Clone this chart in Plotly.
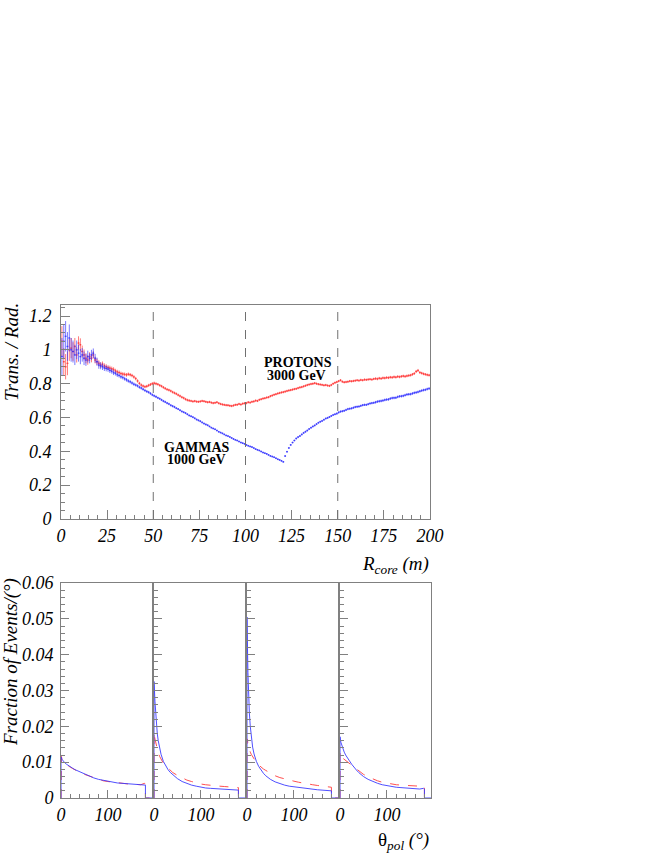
import plotly.graph_objects as go

# ---------------- Top panel data: Trans./Rad. vs R_core (1 m bins) ----------------
R_CENTERS = [i + 0.5 for i in range(200)]

GAMMA_RATIO = [
    0.96, 1.05, 1.08, 1.02, 1.07, 1.00, 0.99, 0.97, 1.00, 0.98,
    0.96, 0.97, 0.95, 0.94, 0.96, 0.95, 0.97, 0.98, 0.95, 0.93,
    0.91, 0.905, 0.90, 0.893, 0.89, 0.886, 0.878, 0.873, 0.865, 0.861,
    0.853, 0.848, 0.841, 0.836, 0.829, 0.823, 0.816, 0.811, 0.804, 0.797,
    0.792, 0.787, 0.779, 0.774, 0.767, 0.760, 0.754, 0.749, 0.742, 0.734,
    0.728, 0.723, 0.716, 0.711, 0.704, 0.697, 0.692, 0.685, 0.680, 0.672,
    0.667, 0.662, 0.655, 0.650, 0.643, 0.636, 0.631, 0.626, 0.619, 0.612,
    0.607, 0.602, 0.595, 0.588, 0.583, 0.578, 0.571, 0.564, 0.559, 0.554,
    0.547, 0.540, 0.535, 0.530, 0.523, 0.516, 0.511, 0.506, 0.500, 0.494,
    0.490, 0.485, 0.479, 0.473, 0.468, 0.464, 0.458, 0.452, 0.448, 0.444,
    0.438, 0.433, 0.429, 0.425, 0.419, 0.413, 0.409, 0.405, 0.399, 0.393,
    0.389, 0.385, 0.379, 0.373, 0.369, 0.365, 0.359, 0.353, 0.349, 0.344,
    0.338, 0.372, 0.398, 0.420, 0.438, 0.452, 0.464, 0.476, 0.484, 0.491,
    0.500, 0.509, 0.516, 0.523, 0.532, 0.540, 0.547, 0.553, 0.561, 0.569,
    0.575, 0.580, 0.587, 0.594, 0.598, 0.603, 0.609, 0.615, 0.619, 0.623,
    0.630, 0.635, 0.637, 0.640, 0.645, 0.650, 0.652, 0.654, 0.658, 0.662,
    0.664, 0.665, 0.669, 0.673, 0.675, 0.675, 0.679, 0.683, 0.685, 0.687,
    0.690, 0.694, 0.696, 0.698, 0.700, 0.704, 0.706, 0.707, 0.712, 0.715,
    0.716, 0.717, 0.722, 0.725, 0.726, 0.728, 0.732, 0.736, 0.737, 0.738,
    0.742, 0.746, 0.748, 0.751, 0.755, 0.759, 0.762, 0.764, 0.768, 0.771,
]

GAMMA_ERR = [
    0.110, 0.100, 0.090, 0.085, 0.080, 0.070, 0.065, 0.060, 0.055, 0.050,
    0.045, 0.040, 0.040, 0.035, 0.035, 0.030, 0.030, 0.028, 0.026, 0.024,
    0.022, 0.020, 0.019, 0.018, 0.017, 0.016, 0.015, 0.014, 0.014, 0.013,
    0.013, 0.012, 0.012, 0.011, 0.011, 0.011, 0.010, 0.010, 0.010, 0.010,
    0.009, 0.009, 0.009, 0.009, 0.009, 0.008, 0.008, 0.008, 0.008, 0.008,
    0.008, 0.008, 0.007, 0.007, 0.007, 0.007, 0.007, 0.007, 0.007, 0.007,
    0.007, 0.007, 0.006, 0.006, 0.006, 0.006, 0.006, 0.006, 0.006, 0.006,
    0.006, 0.006, 0.006, 0.006, 0.006, 0.006, 0.006, 0.006, 0.006, 0.006,
    0.005, 0.005, 0.005, 0.005, 0.005, 0.005, 0.005, 0.005, 0.005, 0.005,
    0.005, 0.005, 0.005, 0.005, 0.005, 0.005, 0.005, 0.005, 0.005, 0.005,
    0.005, 0.005, 0.005, 0.005, 0.005, 0.005, 0.005, 0.005, 0.005, 0.005,
    0.005, 0.005, 0.005, 0.005, 0.005, 0.005, 0.005, 0.005, 0.005, 0.005,
    0.005, 0.005, 0.005, 0.005, 0.005, 0.005, 0.005, 0.006, 0.006, 0.006,
    0.006, 0.006, 0.006, 0.006, 0.006, 0.006, 0.006, 0.006, 0.006, 0.006,
    0.006, 0.006, 0.006, 0.006, 0.006, 0.006, 0.006, 0.006, 0.006, 0.007,
    0.007, 0.007, 0.007, 0.007, 0.007, 0.007, 0.007, 0.007, 0.007, 0.007,
    0.007, 0.007, 0.007, 0.007, 0.007, 0.007, 0.007, 0.007, 0.007, 0.007,
    0.008, 0.008, 0.008, 0.008, 0.008, 0.008, 0.008, 0.008, 0.008, 0.008,
    0.008, 0.008, 0.008, 0.008, 0.008, 0.008, 0.008, 0.008, 0.008, 0.008,
    0.008, 0.008, 0.008, 0.008, 0.008, 0.008, 0.008, 0.008, 0.008, 0.008,
]

PROTON_RATIO = [
    1.05, 0.93, 0.90, 0.92, 1.00, 1.01, 0.99, 1.02, 0.97, 1.04,
    1.03, 0.99, 0.97, 0.95, 0.94, 0.96, 0.95, 0.97, 0.94, 0.93,
    0.92, 0.91, 0.915, 0.905, 0.90, 0.895, 0.892, 0.888, 0.884, 0.876,
    0.870, 0.866, 0.860, 0.857, 0.855, 0.852, 0.856, 0.853, 0.848, 0.840,
    0.830, 0.816, 0.802, 0.792, 0.786, 0.782, 0.784, 0.790, 0.795, 0.800,
    0.803, 0.800, 0.796, 0.790, 0.785, 0.778, 0.772, 0.766, 0.762, 0.757,
    0.750, 0.745, 0.740, 0.733, 0.727, 0.720, 0.715, 0.708, 0.703, 0.700,
    0.698, 0.695, 0.697, 0.694, 0.693, 0.695, 0.698, 0.696, 0.693, 0.690,
    0.692, 0.688, 0.685, 0.687, 0.690, 0.684, 0.680, 0.677, 0.675, 0.673,
    0.672, 0.670, 0.668, 0.671, 0.675, 0.676, 0.680, 0.677, 0.682, 0.684,
    0.685, 0.690, 0.688, 0.693, 0.695, 0.700, 0.698, 0.705, 0.708, 0.712,
    0.714, 0.718, 0.720, 0.726, 0.730, 0.735, 0.738, 0.742, 0.745, 0.748,
    0.750, 0.753, 0.757, 0.760, 0.762, 0.765, 0.768, 0.770, 0.774, 0.778,
    0.780, 0.784, 0.788, 0.792, 0.795, 0.798, 0.800, 0.803, 0.800, 0.797,
    0.795, 0.793, 0.790, 0.792, 0.789, 0.787, 0.792, 0.800, 0.806, 0.810,
    0.815, 0.820, 0.812, 0.808, 0.810, 0.812, 0.815, 0.814, 0.816, 0.818,
    0.820, 0.818, 0.822, 0.820, 0.824, 0.823, 0.825, 0.826, 0.824, 0.828,
    0.830, 0.828, 0.832, 0.830, 0.834, 0.833, 0.836, 0.835, 0.838, 0.837,
    0.840, 0.838, 0.842, 0.840, 0.843, 0.845, 0.843, 0.846, 0.848, 0.850,
    0.855, 0.860, 0.872, 0.878, 0.866, 0.862, 0.858, 0.855, 0.852, 0.850,
]

PROTON_ERR = [
    0.090, 0.080, 0.075, 0.070, 0.065, 0.060, 0.055, 0.050, 0.045, 0.040,
    0.038, 0.035, 0.032, 0.030, 0.028, 0.026, 0.024, 0.022, 0.020, 0.019,
    0.018, 0.017, 0.016, 0.015, 0.015, 0.014, 0.014, 0.013, 0.013, 0.012,
    0.012, 0.012, 0.011, 0.011, 0.011, 0.011, 0.010, 0.010, 0.010, 0.010,
    0.010, 0.010, 0.009, 0.009, 0.009, 0.009, 0.009, 0.009, 0.009, 0.009,
    0.009, 0.009, 0.008, 0.008, 0.008, 0.008, 0.008, 0.008, 0.008, 0.008,
    0.008, 0.008, 0.008, 0.008, 0.008, 0.008, 0.008, 0.008, 0.008, 0.008,
    0.007, 0.007, 0.007, 0.007, 0.007, 0.007, 0.007, 0.007, 0.007, 0.007,
    0.007, 0.007, 0.007, 0.007, 0.007, 0.007, 0.007, 0.007, 0.007, 0.007,
    0.007, 0.007, 0.007, 0.007, 0.007, 0.007, 0.007, 0.007, 0.007, 0.007,
    0.007, 0.007, 0.007, 0.007, 0.007, 0.007, 0.007, 0.007, 0.007, 0.007,
    0.007, 0.007, 0.007, 0.007, 0.007, 0.007, 0.007, 0.007, 0.007, 0.007,
    0.007, 0.007, 0.007, 0.007, 0.007, 0.007, 0.007, 0.007, 0.007, 0.007,
    0.007, 0.007, 0.007, 0.007, 0.007, 0.007, 0.007, 0.007, 0.007, 0.007,
    0.007, 0.007, 0.007, 0.007, 0.007, 0.007, 0.007, 0.007, 0.007, 0.007,
    0.007, 0.007, 0.007, 0.007, 0.007, 0.007, 0.007, 0.007, 0.007, 0.007,
    0.007, 0.007, 0.007, 0.007, 0.007, 0.007, 0.007, 0.007, 0.007, 0.007,
    0.008, 0.008, 0.008, 0.008, 0.008, 0.008, 0.008, 0.008, 0.008, 0.008,
    0.008, 0.008, 0.008, 0.008, 0.008, 0.008, 0.008, 0.008, 0.008, 0.008,
    0.008, 0.008, 0.009, 0.009, 0.008, 0.008, 0.008, 0.008, 0.008, 0.008,
]

R_CUTS = [50, 100, 150]

# ---------------- Bottom panels: fraction of events vs theta_pol ----------------
THETA = [0, 1, 2, 3, 4, 5, 7, 9, 12, 15, 20, 25, 30, 35, 40, 50, 60, 70, 80, 90,
         100, 110, 120, 130, 140, 150, 160, 170, 178, 180]

GAMMA_THETA = [
    [0.0115, 0.0112, 0.0108, 0.0106, 0.0104, 0.0102, 0.0100, 0.0097, 0.0094, 0.0091,
     0.0087, 0.0083, 0.0079, 0.0076, 0.0073, 0.0067, 0.0061, 0.0056, 0.0052, 0.0049,
     0.0046, 0.0044, 0.0042, 0.0041, 0.0040, 0.0039, 0.0038, 0.0037, 0.0036, 0.0036],
    [0.0325, 0.0300, 0.0270, 0.0245, 0.0225, 0.0208, 0.0180, 0.0160, 0.0138, 0.0122,
     0.0102, 0.0089, 0.0079, 0.0071, 0.0065, 0.0054, 0.0046, 0.0040, 0.0036, 0.0033,
     0.0030, 0.0028, 0.0027, 0.0026, 0.0025, 0.0024, 0.0023, 0.0023, 0.0022, 0.0022],
    [0.0505, 0.0420, 0.0350, 0.0300, 0.0265, 0.0238, 0.0200, 0.0172, 0.0142, 0.0123,
     0.0102, 0.0088, 0.0077, 0.0069, 0.0062, 0.0052, 0.0045, 0.0040, 0.0036, 0.0033,
     0.0031, 0.0029, 0.0027, 0.0025, 0.0024, 0.0023, 0.0022, 0.0021, 0.0020, 0.0020],
    [0.0171, 0.0162, 0.0155, 0.0150, 0.0145, 0.0141, 0.0134, 0.0128, 0.0120, 0.0113,
     0.0104, 0.0094, 0.0085, 0.0078, 0.0071, 0.0060, 0.0052, 0.0046, 0.0041, 0.0037,
     0.0034, 0.0032, 0.0030, 0.0029, 0.0028, 0.0027, 0.0026, 0.0025, 0.0027, 0.0025],
]

PROTON_THETA = [
    [0.0112, 0.0116, 0.0106, 0.0104, 0.0101, 0.0100, 0.0097, 0.0095, 0.0092, 0.0089,
     0.0086, 0.0082, 0.0078, 0.0075, 0.0072, 0.0066, 0.0061, 0.0056, 0.0052, 0.0048,
     0.0046, 0.0044, 0.0042, 0.0040, 0.0039, 0.0038, 0.0038, 0.0037, 0.0041, 0.0038],
    [0.0185, 0.0175, 0.0165, 0.0158, 0.0150, 0.0145, 0.0135, 0.0126, 0.0116, 0.0108,
     0.0097, 0.0090, 0.0083, 0.0077, 0.0071, 0.0063, 0.0056, 0.0050, 0.0046, 0.0042,
     0.0039, 0.0037, 0.0035, 0.0034, 0.0033, 0.0032, 0.0031, 0.0030, 0.0030, 0.0029],
    [0.0165, 0.0160, 0.0152, 0.0145, 0.0140, 0.0135, 0.0128, 0.0122, 0.0115, 0.0108,
     0.0099, 0.0092, 0.0086, 0.0081, 0.0077, 0.0069, 0.0062, 0.0057, 0.0053, 0.0050,
     0.0047, 0.0044, 0.0041, 0.0039, 0.0037, 0.0035, 0.0033, 0.0032, 0.0030, 0.0030],
    [0.0125, 0.0118, 0.0120, 0.0114, 0.0116, 0.0112, 0.0110, 0.0107, 0.0104, 0.0100,
     0.0096, 0.0091, 0.0086, 0.0081, 0.0076, 0.0066, 0.0059, 0.0053, 0.0048, 0.0044,
     0.0041, 0.0039, 0.0037, 0.0036, 0.0035, 0.0034, 0.0033, 0.0033, 0.0034, 0.0032],
]

THETA_MAX = 194  # right edge of each theta panel

# ---------------- Styling ----------------
W, H = 664, 860
RED = "rgba(255,50,50,0.65)"
BLUE = "rgba(50,50,255,0.65)"
RED_LINE = "rgba(255,60,60,0.9)"
BLUE_LINE = "rgba(60,60,255,0.9)"
FRAME = "#808080"
FONT = "Liberation Serif"

def px_x(p):
    return p / W

def px_y(p):
    return 1 - p / H

fig = go.Figure()

# top panel traces
fig.add_trace(go.Scatter(
    x=R_CENTERS, y=PROTON_RATIO, mode="markers",
    marker=dict(color=RED, size=1.5, symbol="square"),
    error_y=dict(type="data", array=PROTON_ERR, color=RED, thickness=1, width=0),
    error_x=dict(type="constant", value=0.5, color=RED, thickness=1, width=0),
    xaxis="x", yaxis="y", showlegend=False))
fig.add_trace(go.Scatter(
    x=R_CENTERS, y=GAMMA_RATIO, mode="markers",
    marker=dict(color=BLUE, size=1.5, symbol="square"),
    error_y=dict(type="data", array=GAMMA_ERR, color=BLUE, thickness=1, width=0),
    error_x=dict(type="constant", value=0.5, color=BLUE, thickness=1, width=0),
    xaxis="x", yaxis="y", showlegend=False))

# bottom panels
for k in range(4):
    ax = str(k + 2)
    xs = [0] + THETA + [THETA[-1], THETA_MAX]
    yg = [0] + GAMMA_THETA[k] + [0, 0]
    yp = [0] + PROTON_THETA[k] + [0, 0]
    fig.add_trace(go.Scatter(x=xs, y=yp, mode="lines",
                             line=dict(color=RED_LINE, width=1, dash="dash"),
                             xaxis="x" + ax, yaxis="y" + ax, showlegend=False))
    fig.add_trace(go.Scatter(x=xs, y=yg, mode="lines",
                             line=dict(color=BLUE_LINE, width=1),
                             xaxis="x" + ax, yaxis="y" + ax, showlegend=False))

tickfont = dict(family=FONT, size=18, color="black", style="italic")

common_axis = dict(showgrid=False, zeroline=False, showline=True, linecolor=FRAME,
                   linewidth=1, mirror=True, ticks="inside", tickcolor=FRAME,
                   tickfont=tickfont, automargin=False)

layout = dict(
    template="none",
    width=W, height=H, margin=dict(l=0, r=0, t=0, b=0),
    paper_bgcolor="white", plot_bgcolor="white",
    xaxis=dict(domain=[px_x(61), px_x(430)], range=[0, 200], anchor="y",
               dtick=25, tick0=0, ticklen=9,
               minor=dict(ticks="inside", dtick=5, ticklen=4, tickcolor=FRAME),
               **common_axis),
    yaxis=dict(domain=[px_y(519), px_y(305)], range=[0, 1.265], anchor="x",
               dtick=0.2, tick0=0, ticklen=9, ticklabelstandoff=5,
               minor=dict(ticks="inside", dtick=0.05, ticklen=4, tickcolor=FRAME),
               **common_axis),
)

panel_px = [(61, 152), (154, 245), (247, 338), (340, 431)]
for k, (a, b) in enumerate(panel_px):
    ax = str(k + 2)
    layout["xaxis" + ax] = dict(domain=[px_x(a), px_x(b)], range=[0, THETA_MAX],
                                anchor="y" + ax, dtick=100, tick0=0, ticklen=8,
                                minor=dict(ticks="inside", dtick=20, ticklen=4, tickcolor=FRAME),
                                **common_axis)
    layout["yaxis" + ax] = dict(domain=[px_y(798), px_y(583)], range=[0, 0.06],
                                anchor="x" + ax, dtick=0.01, tick0=0, ticklen=8,
                                showticklabels=(k == 0), ticklabelstandoff=3,
                                minor=dict(ticks="inside", dtick=0.002, ticklen=4, tickcolor=FRAME),
                                **common_axis)

fig.update_layout(**layout)

# dashed vertical cut lines
for rc in R_CUTS:
    fig.add_shape(type="line", xref="x", yref="y domain", x0=rc, x1=rc, y0=0, y1=1,
                  line=dict(color="#707070", width=1, dash="dash"))

title_font = dict(family=FONT, size=19, color="black", style="italic")
label_font = dict(family=FONT, size=14, color="black", weight="bold")

annotations = [
    dict(text="Trans. / Rad.", textangle=-90, x=px_x(11), y=px_y(352),
         font=title_font),
    dict(text="R<sub>core</sub> (m)", x=px_x(431), y=px_y(565), xanchor="right",
         font=title_font),
    dict(text="Fraction of Events/(°)", textangle=-90, x=px_x(11), y=px_y(662),
         font=title_font),
    dict(text="<span style='font-style:normal'>θ</span><sub>pol</sub> (°)",
         x=px_x(431), y=px_y(841), xanchor="right", font=title_font),
    dict(text="PROTONS", x=px_x(298), y=px_y(362), font=label_font),
    dict(text="3000 GeV", x=px_x(296), y=px_y(375), font=label_font),
    dict(text="GAMMAS", x=px_x(197), y=px_y(447), font=label_font),
    dict(text="1000 GeV", x=px_x(196), y=px_y(460), font=label_font),
]
for a in annotations:
    a.setdefault("xref", "paper")
    a.setdefault("yref", "paper")
    a.setdefault("showarrow", False)
    a.setdefault("xanchor", "center")
    a.setdefault("yanchor", "middle")
    fig.add_annotation(**a)

# remove the browser's default 8px page margin so the 664x860 figure fills the window
fig.write_html("out.html",
               config={"displayModeBar": False},
               post_script="document.body.style.margin='0px';"
                           "document.body.style.overflow='hidden';")
